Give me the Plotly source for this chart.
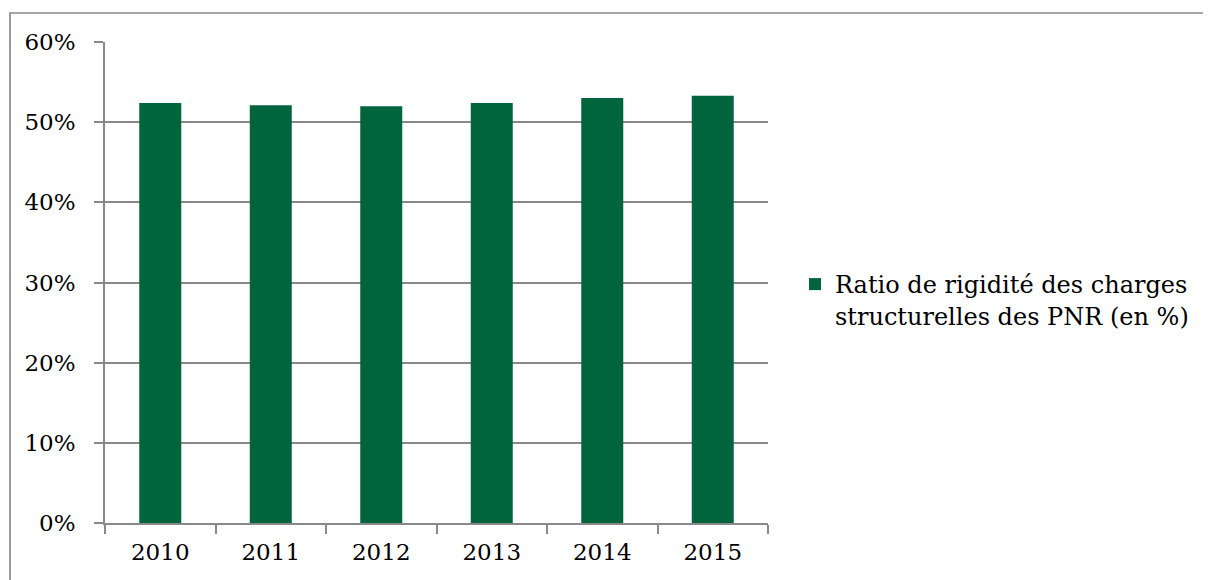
import plotly.graph_objects as go

years = ["2010", "2011", "2012", "2013", "2014", "2015"]
ratio = [52.4, 52.1, 52.0, 52.4, 53.0, 53.3]
series_name = "Ratio de rigidité des charges<br>structurelles des PNR (en %)"
y_ticks = [0, 10, 20, 30, 40, 50, 60]
y_tick_labels = ["0%", "10%", "20%", "30%", "40%", "50%", "60%"]

GREEN = "#00643C"
GRID = "#898989"
FONT = "DejaVu Serif"
FS = 23
LFS = 24
LW = 1.7

fig = go.Figure()
fig.add_trace(go.Bar(x=years, y=ratio, name=series_name, marker=dict(color=GREEN, line=dict(width=0)),
                     showlegend=True))

# page body has an 8px offset; compensate
OFF = 8
W, H = 1211, 580
L, T = 105 - OFF, 42 - OFF
pw, ph = 663, 481
R = W - L - pw
B = H - T - ph

def px_x(x):
    return (x - OFF - L) / pw

def px_y(y):
    return (T + ph - (y - OFF)) / ph

fig.update_layout(
    width=W, height=H,
    margin=dict(l=L, r=R, t=T, b=B, autoexpand=False),
    paper_bgcolor="white", plot_bgcolor="white",
    font=dict(family=FONT, size=FS, color="black"),
    bargap=0.62,
    showlegend=True,
    legend=dict(x=px_x(795), xanchor="left", y=px_y(262), yanchor="top",
                valign="top", font=dict(family=FONT, size=LFS, color="black"),
                bgcolor="rgba(0,0,0,0)"),
    xaxis=dict(showline=True, linecolor=GRID, linewidth=LW, ticks="outside", tickson="boundaries",
               ticklen=9, tickcolor=GRID, tickwidth=LW, showgrid=False,
               tickfont=dict(family=FONT, size=FS), ticklabelstandoff=8),
    yaxis=dict(range=[0, 60], tickmode="array", tickvals=y_ticks, ticktext=y_tick_labels,
               showline=True, linecolor=GRID,
               linewidth=LW, ticks="outside", ticklen=9, tickcolor=GRID, tickwidth=LW,
               showgrid=True, gridcolor=GRID, gridwidth=LW, zeroline=False,
               tickfont=dict(family=FONT, size=FS), ticklabelstandoff=14),
    shapes=[dict(type="rect", xref="paper", yref="paper",
                 x0=px_x(10), x1=px_x(1300),
                 y0=px_y(700), y1=px_y(13),
                 line=dict(color=GRID, width=LW), fillcolor="rgba(0,0,0,0)", layer="below")],
)

fig.write_html("out.html")
